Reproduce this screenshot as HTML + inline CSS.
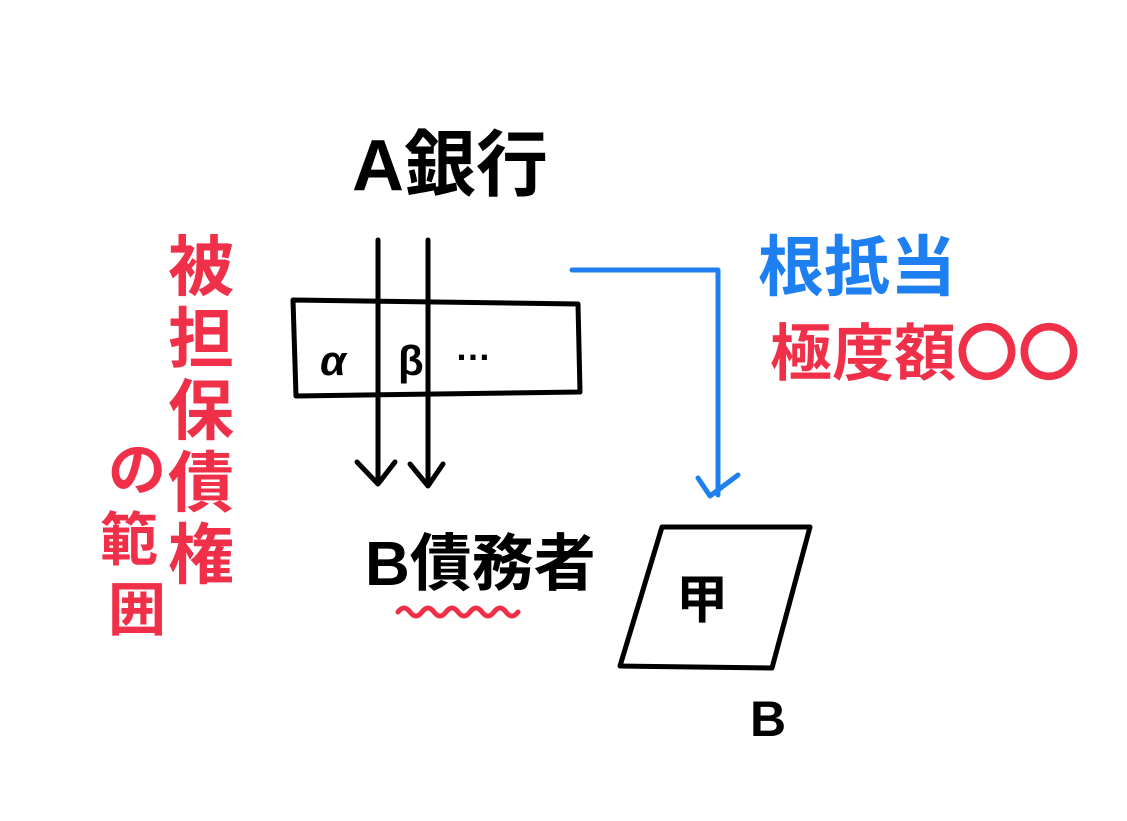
<!DOCTYPE html>
<html><head><meta charset="utf-8"><style>
html,body{margin:0;padding:0;background:#fff;}
svg{display:block;}
text{font-family:"Liberation Sans","Noto Sans CJK JP",sans-serif;font-weight:bold;}
</style></head><body>
<svg width="1127" height="821" viewBox="0 0 1127 821" xmlns="http://www.w3.org/2000/svg">
<g stroke="#000" stroke-width="5" fill="none" stroke-linecap="round" stroke-linejoin="round">
  <line x1="378" y1="240" x2="378" y2="482"/>
  <line x1="428" y1="240" x2="428" y2="485"/>
  <polyline points="357,462 378,484 395,462"/>
  <polyline points="410,464 428,486 443,464"/>
  <path d="M293,300 L578,304 L580,392 L296,396 Z"/>
  <path d="M662,527 L810,527 L772,668 L620,666 Z"/>
</g>
<g stroke="#1e7ff0" stroke-width="5" fill="none" stroke-linecap="round" stroke-linejoin="round">
  <polyline points="572,270 718,270 718,495"/>
  <polyline points="698,478 710,496 738,475"/>
</g>
<path d="M398,612 q6,-8 12,0 t12,0 t12,0 t12,0 t12,0 t12,0 t12,0 t12,0 t12,0 t12,0" stroke="#f03048" stroke-width="5" fill="none" stroke-linecap="round"/>
<g fill="#000">
  <text x="352" y="190" font-size="72">A銀行</text>
  <text x="320" y="375" font-size="42" font-style="italic">α</text>
  <text x="398" y="375" font-size="42">β</text>
  <text x="455" y="360" font-size="36">…</text>
  <text x="365" y="585" font-size="62">B債務者</text>
  <text x="676" y="618" font-size="52">甲</text>
  <text x="750" y="736" font-size="50">B</text>
</g>
<text x="758" y="290" font-size="66" fill="#1e7ff0">根抵当</text>
<text x="770" y="375" font-size="62" fill="#f03048">極度額〇〇</text>
<g fill="#f03048" font-size="66">
  <text x="168" y="290">被</text>
  <text x="168" y="362">担</text>
  <text x="168" y="434">保</text>
  <text x="168" y="506">債</text>
  <text x="168" y="578">権</text>
</g>
<g fill="#f03048" font-size="58">
  <text x="108" y="490">の</text>
  <text x="100" y="560">範</text>
  <text x="108" y="630">囲</text>
</g>
</svg>
</body></html>
